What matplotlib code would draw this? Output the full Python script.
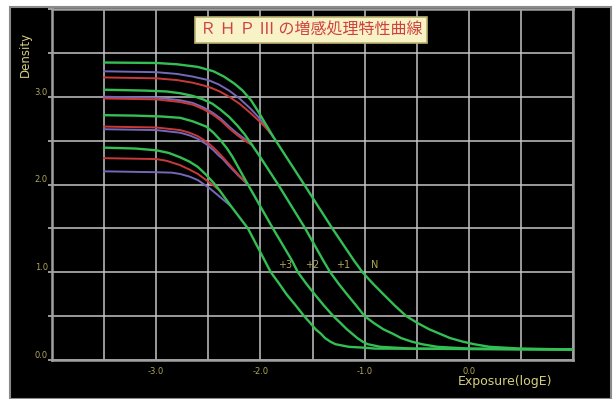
"""
RHP III push-processing characteristic curves (density vs. log exposure).
Four processing levels (N, +1, +2, +3); each drawn as a green curve with
red / purple companions that merge into it on the shoulder.
"""

import matplotlib.pyplot as plt
from matplotlib.patches import Rectangle

# ---------------------------------------------------------------------------
# Data
# ---------------------------------------------------------------------------
# N
n_green_x = [-3.5, -3.0, -2.8, -2.6, -2.45, -2.35, -2.25, -2.17, -2.09, -2.02,
             -1.95, -1.88, -1.58, -1.31, -1.1, -1.02, -0.92, -0.82, -0.71, -0.6,
             -0.49, -0.38, -0.28, -0.18, -0.06, 0.05, 0.2, 0.35, 0.5, 1.0]
n_green_d = [3.39, 3.385, 3.37, 3.34, 3.29, 3.23, 3.15, 3.07, 2.96, 2.83,
             2.69, 2.55, 2.0, 1.5, 1.13, 1.0, 0.87, 0.75, 0.62, 0.5,
             0.42, 0.35, 0.30, 0.25, 0.21, 0.18, 0.15, 0.14, 0.13, 0.12]
n_red_x = [-3.5, -3.0, -2.8, -2.65, -2.55, -2.47, -2.39, -2.3, -2.2, -2.1,
           -2.0, -1.95, -1.88]
n_red_d = [3.22, 3.21, 3.19, 3.16, 3.13, 3.10, 3.06, 3.0, 2.92, 2.82,
           2.71, 2.65, 2.55]
n_purple_x = [-3.5, -3.0, -2.8, -2.65, -2.5, -2.4, -2.3, -2.2, -2.1, -2.02,
              -1.95, -1.88]
n_purple_d = [3.29, 3.28, 3.26, 3.23, 3.19, 3.14, 3.07, 2.98, 2.87, 2.77,
              2.66, 2.55]

# +1
p1_green_x = [-3.5, -3.1, -2.9, -2.77, -2.65, -2.55, -2.46, -2.38, -2.3, -2.22,
              -2.15, -2.08, -2.0, -1.83, -1.57, -1.4, -1.33, -1.25, -1.17, -1.08,
              -1.0, -0.91, -0.82, -0.73, -0.65, -0.55, -0.45, -0.3, -0.15, 0.0,
              1.0]
p1_green_d = [3.08, 3.07, 3.06, 3.04, 3.01, 2.97, 2.92, 2.85, 2.77, 2.67,
              2.57, 2.45, 2.31, 2.0, 1.5, 1.14, 1.0, 0.87, 0.75, 0.62,
              0.5, 0.42, 0.35, 0.30, 0.25, 0.21, 0.18, 0.15, 0.14, 0.13,
              0.12]
p1_red_x = [-3.5, -3.0, -2.77, -2.65, -2.55, -2.46, -2.38, -2.3, -2.22, -2.15,
            -2.08]
p1_red_d = [2.98, 2.97, 2.94, 2.91, 2.86, 2.80, 2.73, 2.64, 2.56, 2.50,
            2.45]
p1_purple_x = [-3.5, -3.0, -2.77, -2.65, -2.55, -2.46, -2.38, -2.3, -2.22, -2.15,
               -2.08]
p1_purple_d = [3.00, 2.99, 2.96, 2.93, 2.88, 2.82, 2.75, 2.66, 2.58, 2.52,
               2.45]

# +2
p2_green_x = [-3.5, -3.2, -2.95, -2.77, -2.65, -2.52, -2.45, -2.38, -2.32, -2.27,
              -2.12, -1.88, -1.7, -1.64, -1.56, -1.48, -1.39, -1.3, -1.23, -1.17,
              -1.12, -1.07, -1.02, -0.97, -0.85, -0.7, -0.55, 1.0]
p2_green_d = [2.79, 2.785, 2.775, 2.76, 2.72, 2.66, 2.59, 2.50, 2.41, 2.32,
              2.0, 1.5, 1.14, 1.0, 0.87, 0.75, 0.62, 0.5, 0.42, 0.35,
              0.30, 0.25, 0.21, 0.18, 0.15, 0.14, 0.13, 0.12]
p2_red_x = [-3.5, -3.0, -2.77, -2.68, -2.6, -2.52, -2.45, -2.4, -2.36, -2.3,
            -2.21, -2.12]
p2_red_d = [2.66, 2.65, 2.62, 2.59, 2.55, 2.49, 2.42, 2.36, 2.31, 2.23,
            2.11, 2.0]
p2_purple_x = [-3.5, -3.0, -2.77, -2.68, -2.6, -2.52, -2.45, -2.4, -2.36, -2.3,
               -2.21, -2.12]
p2_purple_d = [2.63, 2.62, 2.59, 2.56, 2.52, 2.46, 2.39, 2.33, 2.29, 2.21,
               2.10, 2.0]

# +3
p3_green_x = [-3.5, -3.2, -3.0, -2.88, -2.77, -2.68, -2.6, -2.52, -2.45, -2.39,
              -2.28, -2.12, -2.01, -1.9, -1.82, -1.75, -1.66, -1.58, -1.52, -1.47,
              -1.42, -1.38, -1.33, -1.28, -1.15, -1.0, -0.9, 1.0]
p3_green_d = [2.42, 2.41, 2.39, 2.36, 2.31, 2.26, 2.20, 2.11, 2.02, 1.93,
              1.75, 1.5, 1.25, 1.0, 0.87, 0.75, 0.62, 0.5, 0.42, 0.35,
              0.30, 0.25, 0.21, 0.18, 0.15, 0.14, 0.13, 0.12]
p3_red_x = [-3.5, -3.0, -2.9, -2.77, -2.68, -2.6, -2.52, -2.45, -2.39]
p3_red_d = [2.30, 2.29, 2.27, 2.22, 2.17, 2.12, 2.05, 1.99, 1.93]
p3_purple_x = [-3.5, -3.0, -2.85, -2.77, -2.68, -2.6, -2.54, -2.48, -2.42, -2.36,
               -2.28]
p3_purple_d = [2.15, 2.14, 2.135, 2.12, 2.09, 2.05, 2.0, 1.95, 1.89, 1.83,
               1.75]

curve_labels = ["+3", "+2", "+1", "N"]
label_x = [-1.76, -1.50, -1.21, -0.90]

x_ticks = [-3.0, -2.0, -1.0, 0.0]
y_ticks = [0.0, 1.0, 2.0, 3.0]
title_text = "Ｒ Ｈ Ｐ Ⅲ の増感処理特性曲線"

# ---------------------------------------------------------------------------
# Plot
# ---------------------------------------------------------------------------
GREEN  = "#34bf55"
RED    = "#c83a3a"
PURPLE = "#7468b8"
GRID   = "#c4c4c4"
TICK   = "#b0a65a"
LABEL  = "#d6cf7e"

fig = plt.figure(figsize=(6.14, 3.99), dpi=100, facecolor="white")

# black panel with grey border
fig.patches.append(Rectangle((10 / 614, 0), 601 / 614, 392 / 399,
                             transform=fig.transFigure, facecolor="black",
                             edgecolor="#8a8a8a", linewidth=1.5, zorder=-1))

ax = fig.add_axes([52 / 614, 39 / 399, 521 / 614, 351 / 399])
ax.set_facecolor("black")

groups = [
    (n_green_x, n_green_d, n_red_x, n_red_d, n_purple_x, n_purple_d),
    (p1_green_x, p1_green_d, p1_red_x, p1_red_d, p1_purple_x, p1_purple_d),
    (p2_green_x, p2_green_d, p2_red_x, p2_red_d, p2_purple_x, p2_purple_d),
    (p3_green_x, p3_green_d, p3_red_x, p3_red_d, p3_purple_x, p3_purple_d),
]
for gx, gd, rx, rd, px, pd in groups:
    ax.plot(px, pd, color=PURPLE, lw=1.4, zorder=3, solid_joinstyle="round")
    ax.plot(rx, rd, color=RED, lw=1.4, zorder=3, solid_joinstyle="round")
    ax.plot(gx, gd, color=GREEN, lw=1.7, zorder=4, solid_joinstyle="round")

for lab, lx in zip(curve_labels, label_x):
    ax.text(lx, 1.03, lab, color=TICK, fontsize=7, ha="center",
            va="bottom", zorder=5)

ax.set_xlim(-4.0, 1.0)
ax.set_ylim(0.0, 4.0)
ax.set_xticks([-4.0 + 0.5 * i for i in range(11)], minor=True)
ax.set_yticks([0.5 * i for i in range(9)], minor=True)
ax.set_xticks(x_ticks)
ax.set_xticklabels([f"{v:.1f}" for v in x_ticks])
ax.set_yticks(y_ticks)
ax.set_yticklabels([f"{v:.1f}" for v in y_ticks])
ax.grid(which="both", color=GRID, lw=1.1, zorder=1)
ax.tick_params(which="both", length=0, labelcolor=TICK, labelsize=6)
ax.tick_params(axis="y", which="both", length=3, color=GRID, width=1.1)
ax.tick_params(axis="x", pad=5)
ax.tick_params(axis="y", pad=0)
for lbl in ax.get_yticklabels():
    lbl.set_va("bottom")
for s in ax.spines.values():
    s.set_color("#a0a0a0")
    s.set_linewidth(1.8)

# axis titles
fig.text(25 / 614, 1 - 54 / 399, "Density", rotation=90, color=LABEL,
         fontsize=8.5, ha="center", va="center")
fig.text(505 / 614, 1 - 382 / 399, "Exposure(logE)", color=LABEL,
         fontsize=9, ha="center", va="center")

# title box
fig.text(311 / 614, 1 - 30 / 399, title_text, color="#d04242", fontsize=11.5,
         ha="center", va="center",
         family=["Noto Sans CJK JP", "DejaVu Sans"],
         bbox=dict(boxstyle="square,pad=0.3", facecolor="#f7f3c6",
                   edgecolor="#b8b070", linewidth=1.2))

plt.savefig("out.png", dpi=100, facecolor=fig.get_facecolor())
